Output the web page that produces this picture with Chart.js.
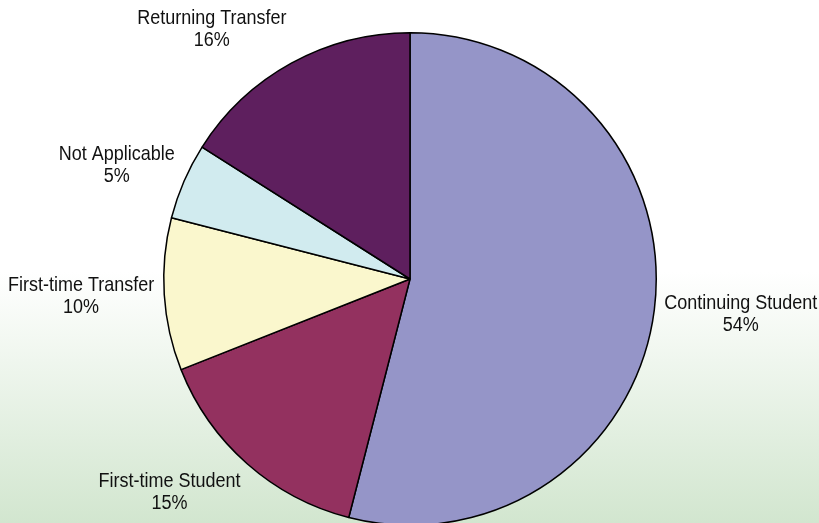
<!DOCTYPE html>
<html>
<head>
<meta charset="utf-8">
<script src="https://cdn.jsdelivr.net/npm/chart.js@4"></script>
<style>
  html, body { margin: 0; padding: 0; width: 819px; height: 523px; overflow: hidden; }
  body { background: linear-gradient(180deg, #ffffff 0%, #ffffff 52%, #d2e6cf 100%); }
  #wrap { position: absolute; left: 0; top: 0; width: 819px; height: 530px; }
</style>
</head>
<body>
<div id="wrap"><canvas id="pie" width="819" height="530"></canvas></div>
<script>
const labels = ['Continuing Student', 'First-time Student', 'First-time Transfer', 'Not Applicable', 'Returning Transfer'];
const shares = [54, 15, 10, 5, 16];
const colors = ['#9595c8', '#93315f', '#faf7cd', '#d1ebef', '#5e1f5e'];

// labels outside the pie, box corner pinned near the slice's mid angle
const outsideLabels = {
    id: 'outsideLabels',
    afterDatasetsDraw: function(chart) {
        const ctx = chart.ctx;
        const arcs = chart.getDatasetMeta(0).data;
        const lineH = 22, gap = 10, sy = 1.08;
        ctx.save();
        ctx.font = '18px "Liberation Sans", Arial, sans-serif';
        ctx.fillStyle = '#111';
        ctx.textAlign = 'center';
        ctx.textBaseline = 'middle';
        arcs.forEach((a, i) => {
            const mid = (a.startAngle + a.endAngle) / 2;
            const dx = Math.cos(mid), dy = Math.sin(mid);
            const ax = a.x + (a.outerRadius + gap) * dx;
            const ay = a.y + (a.outerRadius + gap) * dy;
            const lines = [labels[i], shares[i] + '%'];
            const w = Math.max(...lines.map(l => ctx.measureText(l).width));
            const h = lineH * 2;
            const cx = ax + Math.sign(dx) * w / 2;
            const cy = ay + dy * h * 0.65;
            lines.forEach((l, j) => {
                const y = cy + (j - 0.5) * lineH;
                ctx.save();
                ctx.translate(cx, y);
                ctx.scale(1, sy);
                ctx.fillText(l, 0, 0);
                ctx.restore();
            });
        });
        ctx.restore();
    }
};

new Chart(document.getElementById('pie'), {
    type: 'pie',
    data: {
        labels: labels,
        datasets: [{
            data: shares,
            backgroundColor: colors,
            borderColor: '#000',
            borderWidth: 1.5
        }]
    },
    options: {
        responsive: false,
        animation: false,
        layout: { padding: { left: 163, right: 162, top: 32, bottom: 4 } },
        plugins: { legend: { display: false }, tooltip: { enabled: false } }
    },
    plugins: [outsideLabels]
});
</script>
</body>
</html>
